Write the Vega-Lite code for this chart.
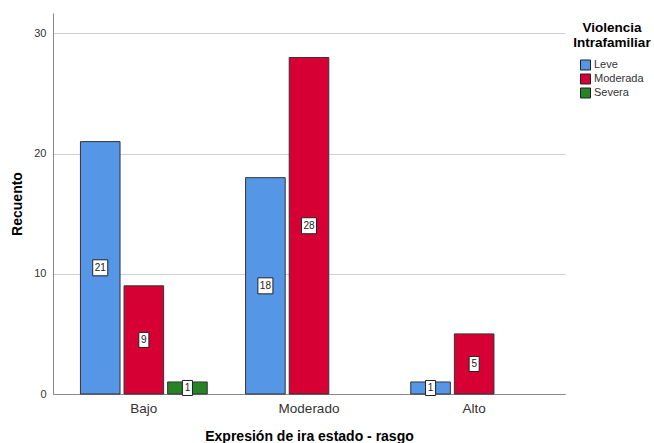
{
  "$schema": "https://vega.github.io/schema/vega-lite/v6.json",
  "width": 512,
  "height": 381,
  "autosize": {"type": "none"},
  "padding": {"left": 53, "top": 13, "right": 89, "bottom": 49},
  "background": "white",
  "config": {"font": "Liberation Sans", "view": {"stroke": null}},
  "data": {"values": [
    {"cat": "Bajo", "grp": "Leve", "value": 21},
    {"cat": "Bajo", "grp": "Moderada", "value": 9},
    {"cat": "Bajo", "grp": "Severa", "value": 1},
    {"cat": "Moderado", "grp": "Leve", "value": 18},
    {"cat": "Moderado", "grp": "Moderada", "value": 28},
    {"cat": "Alto", "grp": "Leve", "value": 1},
    {"cat": "Alto", "grp": "Moderada", "value": 5}
  ]},
  "encoding": {
    "x": {"field": "cat", "type": "nominal", "sort": ["Bajo", "Moderado", "Alto"],
      "scale": {"paddingInner": 0, "paddingOuter": 0.05},
      "axis": {"title": "Expresión de ira estado - rasgo", "labelAngle": 0, "ticks": false, "labelFontSize": 13.5, "labelColor": "#333", "labelPadding": 7, "titleFontSize": 14, "titleFontWeight": "bold", "titleColor": "#000", "titlePadding": 15, "domainColor": "#888", "domainWidth": 1, "grid": false}},
    "xOffset": {"field": "grp", "type": "nominal", "scale": {"domain": ["Leve", "Moderada", "Severa"], "paddingInner": 0.092, "paddingOuter": 0.44}}
  },
  "layer": [
    {
      "mark": {"type": "bar", "stroke": "#333", "strokeWidth": 1},
      "encoding": {
        "y": {"field": "value", "type": "quantitative", "title": "Recuento",
          "scale": {"domain": [0, 31.7], "nice": false},
          "axis": {"values": [0, 10, 20, 30], "grid": true, "gridColor": "#cfcfcf", "ticks": false, "labelPadding": 7, "labelFontSize": 11, "labelColor": "#333", "titleFontSize": 14, "titleFontWeight": "bold", "titleColor": "#000", "titlePadding": 9, "domainColor": "#888"}},
        "color": {"field": "grp", "type": "nominal",
          "scale": {"domain": ["Leve", "Moderada", "Severa"], "range": ["#5596e6", "#d70035", "#268326"]},
          "legend": {"title": ["Violencia", "Intrafamiliar"], "orient": "none", "legendX": 520, "legendY": 8, "padding": 0, "titleFontSize": 13.5, "titleFontWeight": "bold", "titleColor": "#000", "titleAlign": "center", "titleAnchor": "middle", "titleLineHeight": 15, "titlePadding": 10, "symbolType": "square", "symbolSize": 100, "symbolStrokeColor": "#222", "symbolStrokeWidth": 1, "labelFontSize": 11, "labelColor": "#333", "rowPadding": -1, "labelOffset": 3}}
      }
    },
    {
      "transform": [{"calculate": "datum.value/2", "as": "mid"}],
      "mark": {"type": "point", "filled": true, "fill": "white", "stroke": "#222", "strokeWidth": 1, "opacity": 1, "size": 256},
      "encoding": {
        "y": {"field": "mid", "type": "quantitative", "title": "Recuento"},
        "shape": {"condition": {"test": "datum.value >= 10", "value": "M-0.94,-1H0.94V1H-0.94Z"}, "value": "M-0.63,-0.94H0.63V0.94H-0.63Z"}
      }
    },
    {
      "transform": [{"calculate": "datum.value/2", "as": "mid"}],
      "mark": {"type": "text", "fontSize": 10, "color": "#222", "baseline": "middle"},
      "encoding": {
        "y": {"field": "mid", "type": "quantitative", "title": "Recuento"},
        "text": {"field": "value", "type": "quantitative"}
      }
    }
  ]
}
